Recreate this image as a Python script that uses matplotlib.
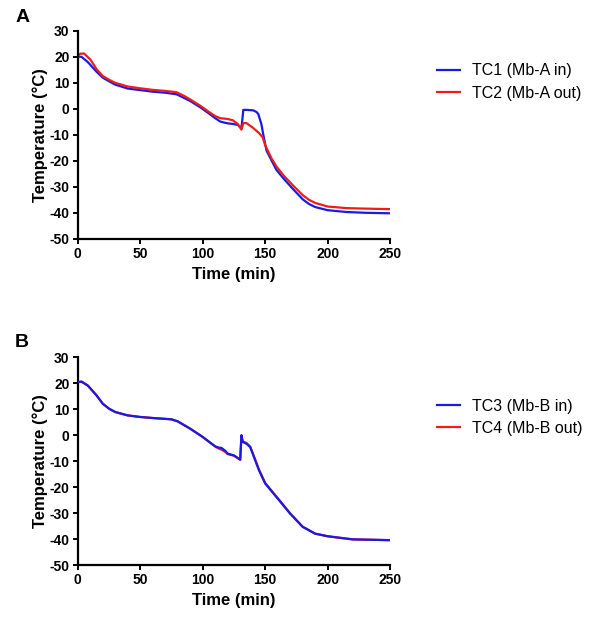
import matplotlib
matplotlib.use("Agg")
import matplotlib.pyplot as plt

plt.rcParams["font.family"] = ["Liberation Sans", "DejaVu Sans"]
plt.rcParams["axes.unicode_minus"] = False

# Panel A: Mb-A thermocouples (time in min, temperature in degC)
t_tc1 = [0, 3, 8, 15, 20, 25, 30, 40, 50, 60, 70, 79, 85, 90, 98, 105, 110, 114,
         120, 124, 128, 131, 132.5, 135, 140.5, 143, 144.5, 147, 148.5, 151, 155,
         159, 165, 172.5, 180, 185, 190, 200, 215, 230, 250]
tc1 = [20.1, 20.0, 18.0, 14.3, 12.0, 10.6, 9.3, 7.8, 7.2, 6.6, 6.2, 5.6, 4.2, 3.0,
       0.6, -1.8, -3.6, -4.9, -5.6, -5.8, -6.2, -7.4, -0.4, -0.4, -0.6, -1.2, -2.0,
       -6.0, -10.0, -16.0, -19.8, -23.5, -27.0, -31.0, -34.8, -36.6, -37.8, -39.0,
       -39.7, -40.0, -40.2]

t_tc2 = [0, 2, 5, 10, 15, 20, 25, 30, 40, 50, 60, 70, 79, 85, 90, 98, 105, 110,
         114, 120, 124, 128, 131, 132.5, 135, 140, 145, 148, 150, 155, 159, 165,
         172.5, 180, 185, 190, 200, 215, 230, 250]
tc2 = [20.5, 21.2, 21.3, 19.0, 15.3, 12.6, 11.2, 10.0, 8.6, 7.9, 7.3, 6.9, 6.4,
       5.0, 3.6, 1.2, -1.2, -2.8, -3.6, -3.9, -4.4, -5.8, -8.0, -5.5, -5.5, -7.2,
       -9.3, -11.0, -14.0, -19.0, -22.2, -25.8, -29.6, -33.2, -35.0, -36.2, -37.6,
       -38.2, -38.4, -38.6]

# Panel B: Mb-B thermocouples
t_tc3 = [0, 3, 8, 15, 20, 25, 30, 40, 50, 60, 75, 80, 90, 100, 110, 113, 115, 118,
         120, 125, 130, 131, 132, 135, 138, 140, 145, 150, 160, 170, 180, 190, 200,
         220, 250]
tc3 = [20.4, 20.6, 19.1, 15.3, 12.1, 10.2, 8.9, 7.6, 7.0, 6.6, 6.1, 5.3, 2.5, -0.7,
       -4.3, -4.8, -4.9, -6.0, -7.1, -7.8, -9.4, 0.0, -2.6, -3.3, -4.6, -7.1, -13.5,
       -18.6, -24.4, -30.2, -35.3, -37.9, -38.9, -40.1, -40.4]

t_tc4 = [0, 3, 8, 15, 20, 25, 30, 40, 50, 60, 75, 80, 90, 100, 110, 113, 115, 118,
         120, 125, 130, 131, 132, 135, 138, 140, 145, 150, 160, 170, 180, 190, 200,
         220, 250]
tc4 = [20.4, 20.6, 19.1, 15.3, 12.1, 10.2, 8.9, 7.6, 7.0, 6.6, 6.1, 5.3, 2.5, -0.7,
       -4.4, -5.2, -5.6, -6.4, -7.3, -7.9, -9.5, -0.2, -2.4, -3.0, -4.4, -6.9, -13.2,
       -18.4, -24.2, -30.1, -35.2, -37.9, -38.9, -40.1, -40.4]

BLUE = "#1a1ae6"
RED = "#ee1c1c"

fig = plt.figure(figsize=(6.03, 6.3), dpi=100)
ax_a = fig.add_axes([0.129, 0.621, 0.518, 0.330])
ax_b = fig.add_axes([0.129, 0.103, 0.518, 0.330])

panels = [
    (ax_a, "A", [(t_tc1, tc1, BLUE, "TC1 (Mb-A in)"), (t_tc2, tc2, RED, "TC2 (Mb-A out)")], 0.912, 0.973),
    (ax_b, "B", [(t_tc3, tc3, BLUE, "TC3 (Mb-B in)"), (t_tc4, tc4, RED, "TC4 (Mb-B out)")], 0.380, 0.457),
]

for ax, letter, series, leg_y, let_y in panels:
    handles = []
    for t, v, c, lab in series:
        h, = ax.plot(t, v, color=c, lw=1.6, label=lab)
        handles.append(h)
    # the blue trace sits over the red in B, draw blue on top
    if letter == "B":
        handles[0].set_zorder(3)
    ax.set_xlim(0, 250)
    ax.set_ylim(-50, 30)
    ax.set_xticks([0, 50, 100, 150, 200, 250])
    ax.set_yticks(range(-50, 31, 10))
    for s in ("top", "right"):
        ax.spines[s].set_visible(False)
    for s in ("left", "bottom"):
        ax.spines[s].set_linewidth(1.6)
    ax.tick_params(width=1.4, length=3.5, labelsize=10, pad=2.5)
    for lbl in ax.get_xticklabels() + ax.get_yticklabels():
        lbl.set_fontweight("bold")
    ax.set_xlabel("Time (min)", fontsize=12, fontweight="bold", labelpad=4)
    ax.set_ylabel("Temperature (\u00b0C)", fontsize=12, fontweight="bold", labelpad=1)
    fig.text(0.025, let_y, letter, fontsize=14, fontweight="bold",
             ha="left", va="center")
    ax.legend(handles=handles, loc="upper left", bbox_to_anchor=(0.712, leg_y),
              bbox_transform=fig.transFigure, frameon=False, fontsize=11.5,
              handlelength=1.45, handletextpad=0.75, labelspacing=0.45, borderpad=0)

fig.savefig("out.png", dpi=100)
